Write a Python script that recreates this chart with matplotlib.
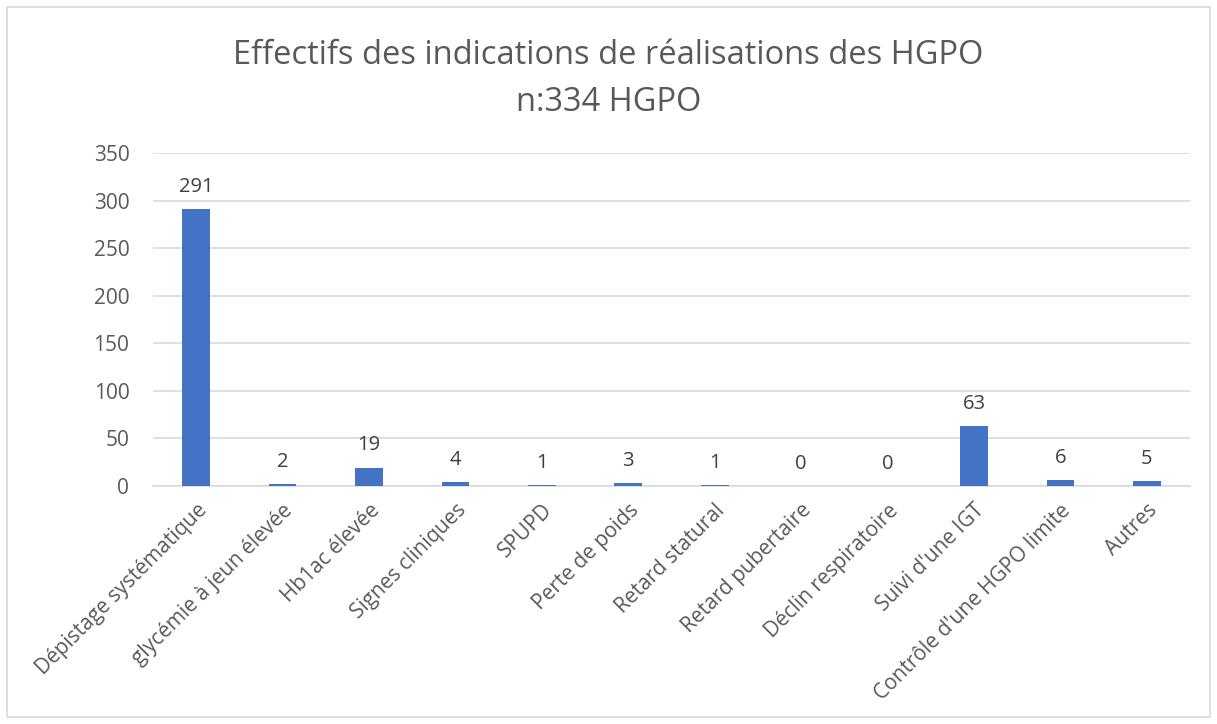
import matplotlib.pyplot as plt
import numpy as np

categories = ["Dépistage systématique", "glycémie à jeun élevée", "Hb1ac élevée",
              "Signes cliniques", "SPUPD", "Perte de poids", "Retard statural",
              "Retard pubertaire", "Déclin respiratoire", "Suivi d'une IGT",
              "Contrôle d'une HGPO limite", "Autres"]
values = [291, 2, 19, 4, 1, 3, 1, 0, 0, 63, 6, 5]
yticks = [0, 50, 100, 150, 200, 250, 300, 350]

plt.rcParams['font.family'] = ['Open Sans', 'DejaVu Sans']
text_color = '#595959'
grid_color = '#D9D9D9'

fig = plt.figure(figsize=(12.17, 7.24), dpi=100)
ax = fig.add_axes([0.1257, 0.3287, 0.8521, 0.46])

x = np.arange(len(categories))
ax.bar(x, values, width=0.32, color='#4472C4', zorder=3)
for xi, v in zip(x, values):
    ax.annotate(str(v), (xi, v), xytext=(0, 9), textcoords='offset points',
                ha='center', va='bottom', fontsize=14.5, color='#404040')

ax.set_xlim(-0.5, len(categories) - 0.5)
ax.set_ylim(0, 350)
ax.set_yticks(yticks)
ax.grid(axis='y', color=grid_color, linewidth=1.2, zorder=0)
for s in ['top', 'right', 'left']:
    ax.spines[s].set_visible(False)
ax.spines['bottom'].set_color(grid_color)
ax.spines['bottom'].set_linewidth(1.2)
ax.tick_params(axis='both', length=0, labelsize=15, labelcolor=text_color)
ax.tick_params(axis='y', pad=17)
ax.set_xticks(x)
ax.set_xticklabels(categories, rotation=45, ha='right', va='top',
                   rotation_mode='anchor')
ax.tick_params(axis='x', pad=10)

fig.text(0.5, 0.923, "Effectifs des indications de réalisations des HGPO",
         ha='center', va='center', fontsize=23.5, color=text_color)
fig.text(0.5, 0.858, "n:334 HGPO", ha='center', va='center', fontsize=23.5,
         color=text_color)

border = plt.Rectangle((0.006, 0.01), 0.988, 0.98, transform=fig.transFigure,
                       fill=False, edgecolor='#D9D9D9', linewidth=1.2)
fig.patches.append(border)

fig.savefig('out.png', dpi=100)
